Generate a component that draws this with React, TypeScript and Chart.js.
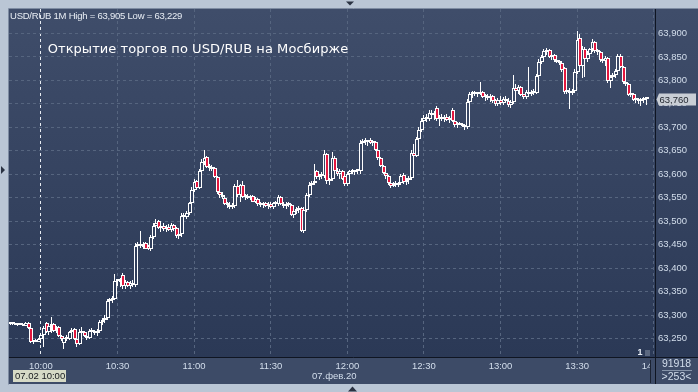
import { useEffect, useRef } from 'react';
import { Chart, registerables } from 'chart.js';

Chart.register(...registerables);

// ---- data ----
const FIRST_MINUTE = 9 * 60 + 48; // 09:48, first 1-minute candle
const SLOT_COUNT = 253;
const X_TICK_LABELS = ['10:00', '10:30', '11:00', '11:30', '12:00', '12:30', '13:00', '13:30', '14:00'];
const CURSOR_TIME = '10:00';
const Y_TICKS = [63.25, 63.3, 63.35, 63.4, 63.45, 63.5, 63.55, 63.6, 63.65, 63.7, 63.75, 63.8, 63.85, 63.9];
const Y_MIN = 63.211;
const Y_MAX = 63.952;

const OPEN = [
  63.282, 63.281, 63.281, 63.280, 63.282, 63.280, 63.278, 63.284, 63.272, 63.243,
  63.246, 63.244, 63.250, 63.258, 63.284, 63.264, 63.276, 63.282, 63.266, 63.274,
  63.256, 63.240, 63.252, 63.250, 63.264, 63.270, 63.250, 63.238, 63.264, 63.264,
  63.256, 63.252, 63.266, 63.264, 63.262, 63.266, 63.286, 63.290, 63.294, 63.330,
  63.332, 63.334, 63.372, 63.374, 63.386, 63.362, 63.370, 63.362, 63.368, 63.364,
  63.448, 63.452, 63.448, 63.454, 63.448, 63.440, 63.466, 63.490, 63.500, 63.486,
  63.490, 63.484, 63.488, 63.482, 63.492, 63.486, 63.468, 63.472, 63.512, 63.510,
  63.518, 63.538, 63.566, 63.586, 63.570, 63.606, 63.626, 63.636, 63.616, 63.614,
  63.614, 63.594, 63.562, 63.556, 63.550, 63.536, 63.534, 63.530, 63.532, 63.576,
  63.556, 63.578, 63.552, 63.554, 63.550, 63.554, 63.542, 63.548, 63.536, 63.534,
  63.538, 63.532, 63.536, 63.530, 63.538, 63.536, 63.552, 63.536, 63.532, 63.536,
  63.534, 63.514, 63.522, 63.526, 63.528, 63.480, 63.524, 63.556, 63.578, 63.582,
  63.606, 63.594, 63.598, 63.596, 63.644, 63.586, 63.590, 63.634, 63.608, 63.600,
  63.606, 63.596, 63.580, 63.600, 63.606, 63.604, 63.608, 63.606, 63.666, 63.670,
  63.668, 63.672, 63.666, 63.668, 63.652, 63.634, 63.618, 63.602, 63.596, 63.582,
  63.576, 63.580, 63.578, 63.582, 63.598, 63.584, 63.588, 63.592, 63.646, 63.640,
  63.676, 63.694, 63.714, 63.720, 63.718, 63.730, 63.726, 63.742, 63.718, 63.722,
  63.718, 63.722, 63.716, 63.738, 63.714, 63.704, 63.710, 63.708, 63.702, 63.700,
  63.754, 63.770, 63.772, 63.770, 63.774, 63.776, 63.764, 63.766, 63.762, 63.766,
  63.758, 63.750, 63.758, 63.752, 63.760, 63.756, 63.748, 63.754, 63.784, 63.778,
  63.786, 63.770, 63.764, 63.776, 63.772, 63.776, 63.774, 63.810, 63.840, 63.850,
  63.862, 63.864, 63.850, 63.854, 63.844, 63.840, 63.836, 63.826, 63.776, 63.778,
  63.774, 63.778, 63.818, 63.890, 63.830, 63.866, 63.846, 63.856, 63.866, 63.882,
  63.862, 63.860, 63.844, 63.842, 63.848, 63.798, 63.808, 63.812, 63.820, 63.852,
  63.828, 63.796, 63.792, 63.768, 63.772, 63.758, 63.760, 63.756, 63.758, 63.762,
];

const HIGH = [
  63.284, 63.283, 63.283, 63.282, 63.284, 63.282, 63.286, 63.285, 63.273, 63.248,
  63.250, 63.252, 63.262, 63.276, 63.286, 63.282, 63.296, 63.284, 63.276, 63.276,
  63.258, 63.256, 63.258, 63.266, 63.272, 63.272, 63.252, 63.270, 63.274, 63.266,
  63.264, 63.270, 63.272, 63.268, 63.270, 63.290, 63.294, 63.300, 63.334, 63.336,
  63.340, 63.388, 63.378, 63.380, 63.390, 63.374, 63.372, 63.372, 63.374, 63.454,
  63.456, 63.480, 63.456, 63.456, 63.450, 63.470, 63.496, 63.504, 63.502, 63.494,
  63.496, 63.492, 63.494, 63.496, 63.494, 63.488, 63.476, 63.518, 63.518, 63.522,
  63.542, 63.572, 63.590, 63.588, 63.612, 63.632, 63.651, 63.640, 63.622, 63.620,
  63.616, 63.596, 63.566, 63.562, 63.552, 63.542, 63.540, 63.538, 63.580, 63.588,
  63.580, 63.586, 63.558, 63.558, 63.556, 63.556, 63.552, 63.550, 63.542, 63.540,
  63.542, 63.540, 63.542, 63.540, 63.544, 63.556, 63.554, 63.542, 63.540, 63.542,
  63.536, 63.526, 63.530, 63.532, 63.530, 63.530, 63.560, 63.584, 63.586, 63.622,
  63.610, 63.600, 63.604, 63.652, 63.646, 63.592, 63.648, 63.640, 63.614, 63.612,
  63.610, 63.598, 63.604, 63.610, 63.612, 63.610, 63.612, 63.672, 63.676, 63.678,
  63.674, 63.678, 63.672, 63.670, 63.656, 63.636, 63.620, 63.606, 63.598, 63.586,
  63.584, 63.586, 63.584, 63.600, 63.602, 63.592, 63.596, 63.652, 63.664, 63.680,
  63.700, 63.720, 63.726, 63.728, 63.736, 63.738, 63.734, 63.746, 63.726, 63.728,
  63.726, 63.728, 63.724, 63.742, 63.718, 63.712, 63.712, 63.710, 63.706, 63.760,
  63.776, 63.778, 63.778, 63.776, 63.796, 63.778, 63.770, 63.772, 63.770, 63.768,
  63.760, 63.762, 63.766, 63.764, 63.766, 63.762, 63.758, 63.812, 63.792, 63.790,
  63.788, 63.772, 63.780, 63.828, 63.780, 63.782, 63.814, 63.846, 63.854, 63.866,
  63.868, 63.866, 63.858, 63.856, 63.848, 63.844, 63.838, 63.828, 63.782, 63.784,
  63.782, 63.824, 63.905, 63.898, 63.874, 63.872, 63.862, 63.870, 63.888, 63.884,
  63.866, 63.862, 63.850, 63.852, 63.850, 63.812, 63.816, 63.824, 63.856, 63.856,
  63.830, 63.800, 63.794, 63.776, 63.774, 63.764, 63.762, 63.762, 63.764, 63.764,
];

const LOW = [
  63.280, 63.279, 63.279, 63.278, 63.279, 63.276, 63.277, 63.270, 63.240, 63.238,
  63.242, 63.243, 63.240, 63.233, 63.262, 63.258, 63.262, 63.264, 63.262, 63.254,
  63.246, 63.229, 63.246, 63.248, 63.260, 63.248, 63.232, 63.236, 63.258, 63.254,
  63.248, 63.250, 63.260, 63.258, 63.256, 63.262, 63.280, 63.284, 63.290, 63.322,
  63.326, 63.332, 63.362, 63.360, 63.356, 63.356, 63.360, 63.356, 63.360, 63.360,
  63.438, 63.444, 63.440, 63.440, 63.438, 63.436, 63.462, 63.484, 63.484, 63.478,
  63.480, 63.478, 63.480, 63.478, 63.480, 63.464, 63.462, 63.466, 63.504, 63.504,
  63.514, 63.534, 63.562, 63.566, 63.568, 63.600, 63.620, 63.614, 63.608, 63.606,
  63.592, 63.558, 63.550, 63.548, 63.534, 63.528, 63.526, 63.526, 63.528, 63.552,
  63.540, 63.550, 63.546, 63.548, 63.546, 63.540, 63.538, 63.532, 63.530, 63.528,
  63.530, 63.526, 63.528, 63.526, 63.532, 63.532, 63.534, 63.528, 63.526, 63.530,
  63.512, 63.508, 63.516, 63.518, 63.478, 63.474, 63.520, 63.552, 63.574, 63.578,
  63.590, 63.588, 63.590, 63.592, 63.580, 63.578, 63.586, 63.604, 63.596, 63.590,
  63.588, 63.576, 63.576, 63.596, 63.600, 63.598, 63.600, 63.600, 63.660, 63.662,
  63.660, 63.664, 63.660, 63.650, 63.630, 63.616, 63.600, 63.590, 63.578, 63.570,
  63.572, 63.574, 63.572, 63.578, 63.580, 63.578, 63.580, 63.588, 63.630, 63.636,
  63.668, 63.690, 63.706, 63.712, 63.714, 63.720, 63.716, 63.714, 63.702, 63.714,
  63.712, 63.714, 63.710, 63.712, 63.700, 63.698, 63.704, 63.700, 63.694, 63.696,
  63.750, 63.762, 63.766, 63.764, 63.768, 63.762, 63.756, 63.758, 63.754, 63.752,
  63.746, 63.746, 63.748, 63.748, 63.752, 63.744, 63.742, 63.750, 63.770, 63.772,
  63.766, 63.760, 63.760, 63.770, 63.766, 63.768, 63.770, 63.806, 63.834, 63.846,
  63.854, 63.848, 63.844, 63.840, 63.836, 63.832, 63.818, 63.772, 63.770, 63.740,
  63.768, 63.774, 63.814, 63.826, 63.806, 63.808, 63.840, 63.850, 63.860, 63.858,
  63.854, 63.840, 63.836, 63.830, 63.794, 63.784, 63.802, 63.806, 63.816, 63.826,
  63.792, 63.788, 63.766, 63.764, 63.756, 63.752, 63.750, 63.746, 63.752, 63.748,
];

const CLOSE = [
  63.281, 63.281, 63.280, 63.282, 63.280, 63.278, 63.284, 63.272, 63.243, 63.246,
  63.244, 63.250, 63.258, 63.272, 63.264, 63.276, 63.282, 63.266, 63.270, 63.256,
  63.250, 63.252, 63.250, 63.264, 63.268, 63.250, 63.238, 63.264, 63.262, 63.256,
  63.252, 63.266, 63.264, 63.262, 63.266, 63.286, 63.290, 63.294, 63.330, 63.332,
  63.334, 63.372, 63.374, 63.370, 63.362, 63.370, 63.362, 63.368, 63.364, 63.448,
  63.452, 63.448, 63.446, 63.442, 63.440, 63.466, 63.490, 63.496, 63.486, 63.490,
  63.484, 63.488, 63.482, 63.492, 63.484, 63.468, 63.472, 63.512, 63.510, 63.518,
  63.538, 63.566, 63.584, 63.570, 63.606, 63.626, 63.634, 63.616, 63.614, 63.612,
  63.594, 63.562, 63.556, 63.552, 63.536, 63.534, 63.530, 63.534, 63.576, 63.556,
  63.578, 63.552, 63.554, 63.550, 63.554, 63.542, 63.548, 63.536, 63.534, 63.538,
  63.532, 63.536, 63.530, 63.538, 63.536, 63.552, 63.536, 63.532, 63.536, 63.534,
  63.514, 63.522, 63.526, 63.524, 63.480, 63.524, 63.556, 63.578, 63.582, 63.584,
  63.594, 63.598, 63.596, 63.644, 63.586, 63.590, 63.634, 63.608, 63.600, 63.606,
  63.590, 63.580, 63.600, 63.606, 63.604, 63.608, 63.606, 63.666, 63.670, 63.668,
  63.672, 63.666, 63.668, 63.652, 63.634, 63.618, 63.602, 63.596, 63.582, 63.576,
  63.580, 63.578, 63.582, 63.596, 63.584, 63.588, 63.592, 63.646, 63.640, 63.676,
  63.694, 63.714, 63.720, 63.718, 63.730, 63.726, 63.730, 63.718, 63.722, 63.718,
  63.722, 63.716, 63.720, 63.714, 63.704, 63.708, 63.706, 63.702, 63.700, 63.754,
  63.770, 63.772, 63.770, 63.774, 63.772, 63.764, 63.766, 63.762, 63.766, 63.756,
  63.750, 63.758, 63.752, 63.760, 63.756, 63.748, 63.754, 63.784, 63.778, 63.786,
  63.768, 63.764, 63.776, 63.772, 63.776, 63.774, 63.810, 63.840, 63.850, 63.862,
  63.860, 63.850, 63.854, 63.844, 63.840, 63.836, 63.822, 63.776, 63.778, 63.774,
  63.778, 63.818, 63.886, 63.830, 63.866, 63.846, 63.856, 63.866, 63.882, 63.862,
  63.860, 63.844, 63.842, 63.848, 63.798, 63.808, 63.812, 63.820, 63.852, 63.828,
  63.796, 63.792, 63.768, 63.772, 63.758, 63.760, 63.756, 63.758, 63.762, 63.760,
];

const HEADER_TEXT = 'USD/RUB 1M High = 63,905 Low = 63,229';
const TITLE_TEXT = 'Открытие торгов по USD/RUB на Мосбирже';
const LAST_PRICE = 63.76;
const CURSOR_LABEL = '07.02 10:00';
const DATE_LABEL = '07.фев.20';
const VOLUME_LABEL = '91918';
const BARS_LABEL = '>253<';
const MARKER_LABEL = '1';

const TIME_LABELS = Array.from({ length: SLOT_COUNT }, (_, i) => {
  const m = FIRST_MINUTE + i;
  return String(Math.floor(m / 60)).padStart(2, '0') + ':' + String(m % 60).padStart(2, '0');
});

// ---- styles ----
const W = 698;
const H = 392;
const FRAME = '#bac6d5';
const BG_TOP = '#3f4d6a';
const BG_BOTTOM = '#2b3956';
const AXIS_PANEL = '#3d4b67';
const GRID = '#56657f';
const TEXT = '#d3deec';
const RED = '#e3173e';
const WHITE = '#ffffff';
const FONT = '"Liberation Sans", Arial, sans-serif';

const fmt = (v: number) => v.toFixed(3).replace('.', ',');

function plotGradient(chart: any) {
  const a = chart.chartArea;
  if (!a) return BG_TOP;
  const g = chart.ctx.createLinearGradient(0, a.top, 0, a.bottom);
  g.addColorStop(0, BG_TOP);
  g.addColorStop(1, BG_BOTTOM);
  return g;
}

function fitText(ctx: CanvasRenderingContext2D, text: string, x: number, y: number, width: number) {
  const w = ctx.measureText(text).width;
  const ls = (width - w) / Math.max(1, text.length - 1);
  (ctx as any).letterSpacing = ls.toFixed(2) + 'px';
  ctx.fillText(text, x, y);
  (ctx as any).letterSpacing = '0px';
}

// snap the candle elements (positioned by the scales) to the pixel grid for crisp lines
const snapPlugin = {
  id: 'snap',
  beforeDatasetsDraw(chart: any) {
    chart.data.datasets.forEach((_d: any, di: number) => {
      const meta = chart.getDatasetMeta(di);
      const isWick = di === 1;
      meta.data.forEach((el: any) => {
        el.x = isWick ? Math.floor(el.x) + 0.5 : Math.floor(el.x) + 1;
        el.y = Math.round(el.y);
        el.base = Math.round(el.base);
      });
    });
  },
};

const framePlugin = {
  id: 'frame',
  beforeDraw(chart: any) {
    const { ctx, chartArea: a } = chart;
    ctx.save();
    ctx.fillStyle = FRAME;
    ctx.fillRect(0, 0, W, H);
    ctx.fillStyle = plotGradient(chart);
    ctx.fillRect(a.left, a.top, W - a.left, a.bottom - a.top);
    ctx.fillStyle = AXIS_PANEL;
    ctx.fillRect(a.left, a.bottom, W - a.left, H - 8 - a.bottom);
    ctx.strokeStyle = '#7e8ca2';
    ctx.lineWidth = 1;
    ctx.beginPath();
    ctx.moveTo(a.left - 0.5, H - 7.5);
    ctx.lineTo(a.left - 0.5, a.top - 0.5);
    ctx.lineTo(W, a.top - 0.5);
    ctx.stroke();
    ctx.restore();
  },
  afterDraw(chart: any) {
    const { ctx, chartArea: a } = chart;
    const yScale = chart.scales.y;
    const bottom = H - 8;
    ctx.save();

    // axis separators
    ctx.strokeStyle = '#0f1522';
    ctx.lineWidth = 1;
    ctx.beginPath();
    ctx.moveTo(a.left, a.bottom + 0.5);
    ctx.lineTo(W, a.bottom + 0.5);
    ctx.stroke();

    // bottom-right info cell (covers the clipped 14:00 label)
    ctx.fillStyle = AXIS_PANEL;
    ctx.fillRect(a.right - 4, a.bottom + 1, W - a.right + 4, bottom - a.bottom - 1);
    ctx.strokeStyle = '#1b2333';
    ctx.beginPath();
    ctx.moveTo(a.right - 4.5, a.bottom + 3);
    ctx.lineTo(a.right - 4.5, bottom - 1);
    ctx.stroke();
    ctx.strokeStyle = '#0f1522';
    ctx.beginPath();
    ctx.moveTo(a.right + 0.5, a.top);
    ctx.lineTo(a.right + 0.5, bottom);
    ctx.stroke();
    ctx.fillStyle = TEXT;
    ctx.font = '10.5px ' + FONT;
    ctx.textAlign = 'center';
    ctx.textBaseline = 'middle';
    ctx.fillText(VOLUME_LABEL, 676.5, 364.5);
    ctx.fillText(BARS_LABEL, 676.5, 377.5);
    ctx.strokeStyle = '#8795aa';
    ctx.beginPath();
    ctx.moveTo(662, 370.5);
    ctx.lineTo(692, 370.5);
    ctx.stroke();

    // marker "1"
    ctx.fillStyle = '#e8eef6';
    ctx.font = 'bold 9px ' + FONT;
    ctx.fillText(MARKER_LABEL, 640, 352.5);
    ctx.fillStyle = '#5b6880';
    ctx.fillRect(645, 350, 5, 6);

    // header
    ctx.textAlign = 'left';
    ctx.textBaseline = 'alphabetic';
    ctx.fillStyle = '#e9eef5';
    ctx.font = '9.5px ' + FONT;
    fitText(ctx, HEADER_TEXT, 10, 18.5, 172.5);

    // title
    ctx.fillStyle = '#ffffff';
    ctx.font = '13px "DejaVu Sans", sans-serif';
    fitText(ctx, TITLE_TEXT, 47.7, 52.5, 300.5);

    // last price box
    const py = Math.round(yScale.getPixelForValue(LAST_PRICE));
    ctx.fillStyle = '#c9ced5';
    ctx.beginPath();
    ctx.moveTo(a.right + 1.5, py + 0.5);
    ctx.lineTo(a.right + 4, py - 5.5);
    ctx.lineTo(696, py - 5.5);
    ctx.lineTo(696, py + 6.5);
    ctx.lineTo(a.right + 4, py + 6.5);
    ctx.closePath();
    ctx.fill();
    ctx.fillStyle = '#1d222b';
    ctx.font = '9.5px ' + FONT;
    ctx.textBaseline = 'middle';
    ctx.fillText(fmt(LAST_PRICE), 659.5, py + 1);

    // cursor time box
    ctx.fillStyle = '#d6dac6';
    ctx.fillRect(13, 370, 53, 12);
    ctx.fillStyle = '#15181d';
    ctx.font = '9.5px ' + FONT;
    ctx.fillText(CURSOR_LABEL, 15, 376.5);

    // date
    ctx.fillStyle = TEXT;
    ctx.fillText(DATE_LABEL, 312, 376);

    // frame markers
    ctx.fillStyle = '#2a3242';
    ctx.beginPath();
    ctx.moveTo(346, 1.5); ctx.lineTo(354, 1.5); ctx.lineTo(350, 5.5); ctx.closePath(); ctx.fill();
    ctx.beginPath();
    ctx.moveTo(348, 391.5); ctx.lineTo(357, 391.5); ctx.lineTo(352.5, 386.5); ctx.closePath(); ctx.fill();
    ctx.beginPath();
    ctx.moveTo(1, 166); ctx.lineTo(1, 174); ctx.lineTo(5, 170); ctx.closePath(); ctx.fill();

    ctx.restore();
  },
};

export default function App() {
  const canvasRef = useRef<HTMLCanvasElement | null>(null);

  useEffect(() => {
    document.body.style.margin = '0';
    const canvas = canvasRef.current;
    if (!canvas) return;
    const chart = new Chart(canvas, {
      type: 'bar',
      data: {
        labels: TIME_LABELS,
        datasets: [
          {
            label: 'body',
            data: OPEN.map((o, i) => [o, CLOSE[i]]) as any,
            backgroundColor: (c: any) => {
              const i = c.dataIndex;
              return CLOSE[i] < OPEN[i] ? RED : plotGradient(c.chart);
            },
            borderColor: WHITE,
            borderWidth: 1,
            borderSkipped: false,
            barThickness: 4,
            minBarLength: 2,
            inflateAmount: 0,
            grouped: false,
          } as any,
          {
            label: 'wick',
            data: LOW.map((l, i) => [l, HIGH[i]]) as any,
            backgroundColor: WHITE,
            borderWidth: 0,
            barThickness: 1,
            inflateAmount: 0,
            grouped: false,
          } as any,
        ],
      },
      options: {
        responsive: false,
        animation: false,
        events: [],
        layout: { padding: { left: 9, top: 9, right: 0, bottom: 8 } },
        plugins: { legend: { display: false }, tooltip: { enabled: false }, title: { display: false } },
        scales: {
          x: {
            type: 'category',
            offset: true,
            grid: {
              offset: false,
              drawTicks: false,
              lineWidth: 1,
              color: (c: any) => {
                const l = TIME_LABELS[c.index];
                if (!X_TICK_LABELS.includes(l)) return 'rgba(0,0,0,0)';
                return l === CURSOR_TIME ? '#e8ecf2' : GRID;
              },
            },
            border: { display: false, dash: [3, 3] },
            ticks: {
              autoSkip: false,
              maxRotation: 0,
              minRotation: 0,
              padding: 4,
              color: TEXT,
              font: { family: FONT, size: 9.5 },
              callback: (_v: any, i: number) => (X_TICK_LABELS.includes(TIME_LABELS[i]) ? TIME_LABELS[i] : ''),
            },
            afterFit: (s: any) => {
              s.height = 27;
            },
          },
          y: {
            type: 'linear',
            position: 'right',
            min: Y_MIN,
            max: Y_MAX,
            grid: { drawTicks: false, color: GRID, lineWidth: 1 },
            border: { display: false, dash: [3, 3] },
            afterBuildTicks: (s: any) => {
              s.ticks = Y_TICKS.map((v) => ({ value: v }));
            },
            ticks: {
              padding: 3,
              color: TEXT,
              font: { family: FONT, size: 9.5 },
              callback: (v: any) => fmt(Number(v)),
            },
            afterFit: (s: any) => {
              s.width = 43;
            },
          },
        },
      },
      plugins: [framePlugin, snapPlugin],
    });
    return () => chart.destroy();
  }, []);

  return (
    <div style={{ width: W, height: H }}>
      <canvas ref={canvasRef} width={W} height={H} style={{ display: 'block' }} />
    </div>
  );
}
